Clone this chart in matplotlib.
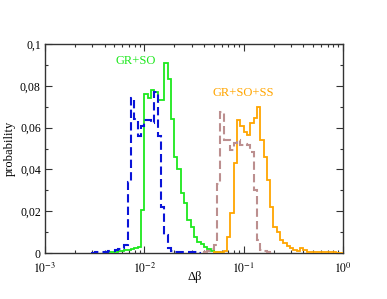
import numpy as np
import matplotlib
matplotlib.use("Agg")
import matplotlib.pyplot as plt
from matplotlib.ticker import FixedLocator, FuncFormatter, LogLocator, MultipleLocator

# ---- data: log-spaced histogram (30 bins per decade starting at 1e-3) ----
bins_per_decade = 30

gr_so_first = 18
gr_so = [0.0003, 0.0005, 0.0005, 0.0006, 0.0008, 0.001, 0.0012, 0.0014, 0.0018, 0.0022,
         0.003, 0.0205, 0.076, 0.074, 0.078, 0.077, 0.073, 0.073, 0.0908, 0.0833,
         0.064, 0.046, 0.040, 0.0285, 0.024, 0.016, 0.0124, 0.0075, 0.0054, 0.0041,
         0.003, 0.0019, 0.0011, 0.0006, 0.0003, 0.0001]

gr_so_dash_first = 14
gr_so_dash = [0.0002, 0.0003, 0.0004, 0.0005, 0.0006, 0.0008, 0.001, 0.0015, 0.002, 0.0025,
              0.004, 0.034, 0.074, 0.064, 0.056, 0.061, 0.0636, 0.0636, 0.062, 0.077,
              0.056, 0.022, 0.0086, 0.0022, 0.001, 0.0006, 0.0005, 0.0005, 0.0004, 0.0004,
              0.0003, 0.0003, 0.0002]

gr_so_ss_first = 51
gr_so_ss = [0.0003, 0.0004, 0.0005, 0.001, 0.0078, 0.019, 0.043, 0.0636, 0.061, 0.058,
            0.0565, 0.062, 0.0644, 0.070, 0.054, 0.046, 0.035, 0.022, 0.0126, 0.0102,
            0.0062, 0.0046, 0.0035, 0.0025, 0.0012, 0.001, 0.0022, 0.0014, 0.0006, 0.0005,
            0.0004, 0.0004, 0.0004, 0.0003, 0.0003, 0.0003, 0.0003, 0.0002, 0.0002]

gr_so_ss_dash_first = 48
gr_so_ss_dash = [0.0005, 0.001, 0.002, 0.004, 0.033, 0.0676, 0.054, 0.054, 0.0493, 0.0525,
                 0.054, 0.0517, 0.052, 0.0517, 0.0485, 0.030, 0.0062, 0.0014, 0.0008, 0.0004,
                 0.0002]

y_ticks = [0, 0.02, 0.04, 0.06, 0.08, 0.1]
y_tick_labels = ["0", "0,02", "0,04", "0,06", "0,08", "0,1"]
x_ticks = [1e-3, 1e-2, 1e-1, 1e0]
x_tick_labels = [r"$10^{-3}$", r"$10^{-2}$", r"$10^{-1}$", r"$10^{0}$"]

plt.rcParams['font.family'] = ['Liberation Serif', 'DejaVu Serif']
plt.rcParams['mathtext.fontset'] = 'stix'


def edges(first, vals):
    k = np.arange(first, first + len(vals) + 1)
    return 10.0 ** (-3 + k / bins_per_decade)


fig = plt.figure(figsize=(3.87, 2.99), dpi=100)
ax = fig.add_axes([45 / 387, 1 - 253 / 299, 298 / 387, 209 / 299])

ax.stairs(gr_so, edges(gr_so_first, gr_so), baseline=0, color='#1ee81e', lw=1.3, zorder=3)
ax.stairs(gr_so_ss, edges(gr_so_ss_first, gr_so_ss), baseline=0, color='#ffa500', lw=1.3, zorder=3)
ax.stairs(gr_so_dash, edges(gr_so_dash_first, gr_so_dash), baseline=0, color='#0a14d8',
          lw=1.5, ls=(0, (4, 2)), zorder=4)
ax.stairs(gr_so_ss_dash, edges(gr_so_ss_dash_first, gr_so_ss_dash), baseline=0, color='#bc8f8f',
          lw=1.5, ls=(0, (4, 2)), zorder=4)

ax.set_xscale('log')
ax.set_xlim(1e-3, 1)
ax.set_ylim(0, 0.1)

ax.xaxis.set_major_locator(FixedLocator(x_ticks))
ax.set_xticklabels(x_tick_labels)
ax.xaxis.set_minor_locator(LogLocator(base=10, subs=np.arange(2, 10)))
ax.xaxis.set_minor_formatter(FuncFormatter(lambda v, p: ""))
ax.set_yticks(y_ticks)
ax.set_yticklabels(y_tick_labels)
ax.yaxis.set_minor_locator(MultipleLocator(0.01))

ax.tick_params(which='both', direction='in', top=True, right=True, labelsize=8.5,
               color='#333333')
ax.tick_params(axis='x', pad=6)
ax.tick_params(axis='y', pad=3)
ax.tick_params(which='major', length=5, width=0.8)
ax.tick_params(which='minor', length=2.5, width=0.8)
for s in ax.spines.values():
    s.set_linewidth(1.0)
    s.set_color('#333333')

ax.set_xlabel('Δβ', fontsize=9)
ax.xaxis.set_label_coords(0.503, -0.088)
ax.set_ylabel('probability', fontsize=9)
ax.yaxis.set_label_coords(-0.097, 0.5)

ax.text(0.0081, 0.092, 'GR+SO', color='#1ee81e', fontsize=9, ha='center', va='center')
ax.text(0.098, 0.0767, 'GR+SO+SS', color='#ffa500', fontsize=9, ha='center', va='center')

fig.savefig('out.png', dpi=100)
